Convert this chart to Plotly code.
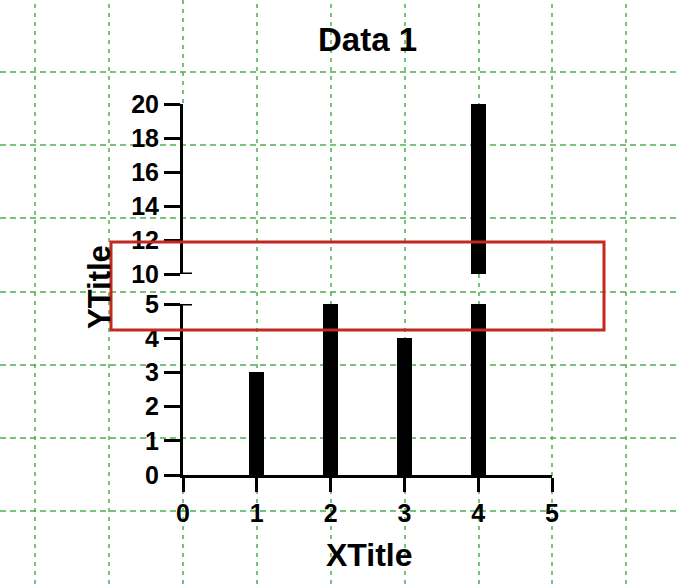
import plotly.graph_objects as go

# data
categories = [1, 2, 3, 4]
values = [3, 5, 4, 20]
lower_ticks = [0, 1, 2, 3, 4, 5]
upper_ticks = [10, 12, 14, 16, 18, 20]
x_ticks = [0, 1, 2, 3, 4, 5]

W, H = 680, 584
FONT = "Liberation Sans, Arial, Helvetica, sans-serif"
GREEN = "#4caf50"
RED = "#c3291c"


def px_x(p):
    return p / W


def px_y(p):
    return 1 - p / H


fig = go.Figure()

# same values drawn on both segments of the broken axis, each clips to its own range
fig.add_trace(go.Bar(x=categories, y=values, xaxis="x", yaxis="y",
                     marker=dict(color="black", line=dict(width=0)), width=0.2))
fig.add_trace(go.Bar(x=categories, y=values, xaxis="x", yaxis="y2",
                     marker=dict(color="black", line=dict(width=0)), width=0.2))

axis_style = dict(
    showline=True, linecolor="black", linewidth=3,
    ticks="outside", ticklen=16, tickwidth=3, tickcolor="black",
    showgrid=False, zeroline=False, automargin=False,
    tickfont=dict(family=FONT, size=25, color="black", weight="bold"),
)

grid_line = dict(color=GREEN, width=1.5, dash="4px,5px")
shapes = []
# page grid (dashed green) across the whole canvas
for xp in [35, 109, 257, 331, 405, 479, 552, 626]:
    shapes.append(dict(type="line", xref="paper", yref="paper",
                       x0=px_x(xp), x1=px_x(xp), y0=0, y1=1,
                       line=grid_line, layer="below"))
# the one at the y axis only shows outside the axis line
for y0, y1 in [(0, 104), (490, H)]:
    shapes.append(dict(type="line", xref="paper", yref="paper",
                       x0=px_x(183), x1=px_x(183), y0=px_y(y0), y1=px_y(y1),
                       line=grid_line, layer="below"))
for yp in [72, 145, 218, 292, 365, 438, 511]:
    shapes.append(dict(type="line", xref="paper", yref="paper", x0=0, x1=1,
                       y0=px_y(yp), y1=px_y(yp),
                       line=dict(color=GREEN, width=1.5, dash="6px,4px"), layer="below"))
# caps at the axis break
shapes.append(dict(type="line", xref="paper", yref="y", x0=px_x(183), x1=px_x(192), y0=5, y1=5,
                   line=dict(color="black", width=3)))
shapes.append(dict(type="line", xref="paper", yref="y2", x0=px_x(183), x1=px_x(192), y0=10, y1=10,
                   line=dict(color="black", width=3)))
# red highlight box
shapes.append(dict(type="rect", xref="paper", yref="paper",
                   x0=px_x(111), x1=px_x(604), y0=px_y(330), y1=px_y(242),
                   line=dict(color=RED, width=3), fillcolor="rgba(0,0,0,0)", layer="above"))

fig.update_layout(
    width=W, height=H,
    margin=dict(l=0, r=0, t=0, b=0, pad=0, autoexpand=False),
    paper_bgcolor="white", plot_bgcolor="rgba(0,0,0,0)",
    showlegend=False,
    bargap=0,
    xaxis=dict(axis_style, domain=[px_x(183), px_x(552)], range=[0, 5],
               tickvals=x_ticks, ticklen=14, anchor="y"),
    yaxis=dict(axis_style, domain=[px_y(475), px_y(304)], range=[0, 5],
               tickvals=lower_ticks, anchor="x"),
    yaxis2=dict(axis_style, domain=[px_y(274), px_y(104)], range=[10, 20],
                tickvals=upper_ticks, anchor="x"),
    title=dict(text="Data 1", x=px_x(367.5), xanchor="center", xref="paper",
               y=px_y(39), yanchor="middle", yref="paper", automargin=False,
               font=dict(family=FONT, size=33, color="black", weight="bold")),
    shapes=shapes,
    annotations=[
        dict(text="XTitle", x=px_x(370), y=px_y(555), xref="paper", yref="paper",
             showarrow=False, xanchor="center", yanchor="middle",
             font=dict(family=FONT, size=32, color="black", weight="bold")),
        dict(text="YTitle", x=px_x(99), y=px_y(287), xref="paper", yref="paper",
             showarrow=False, xanchor="center", yanchor="middle", textangle=-90,
             font=dict(family=FONT, size=31, color="black", weight="bold")),
    ],
)

# drop the page's default body margin so the figure sits at the window corner
fig.write_html(
    "out.html",
    config={"displayModeBar": False},
    post_script="document.body.style.margin='0';document.body.style.overflow='hidden';",
)
